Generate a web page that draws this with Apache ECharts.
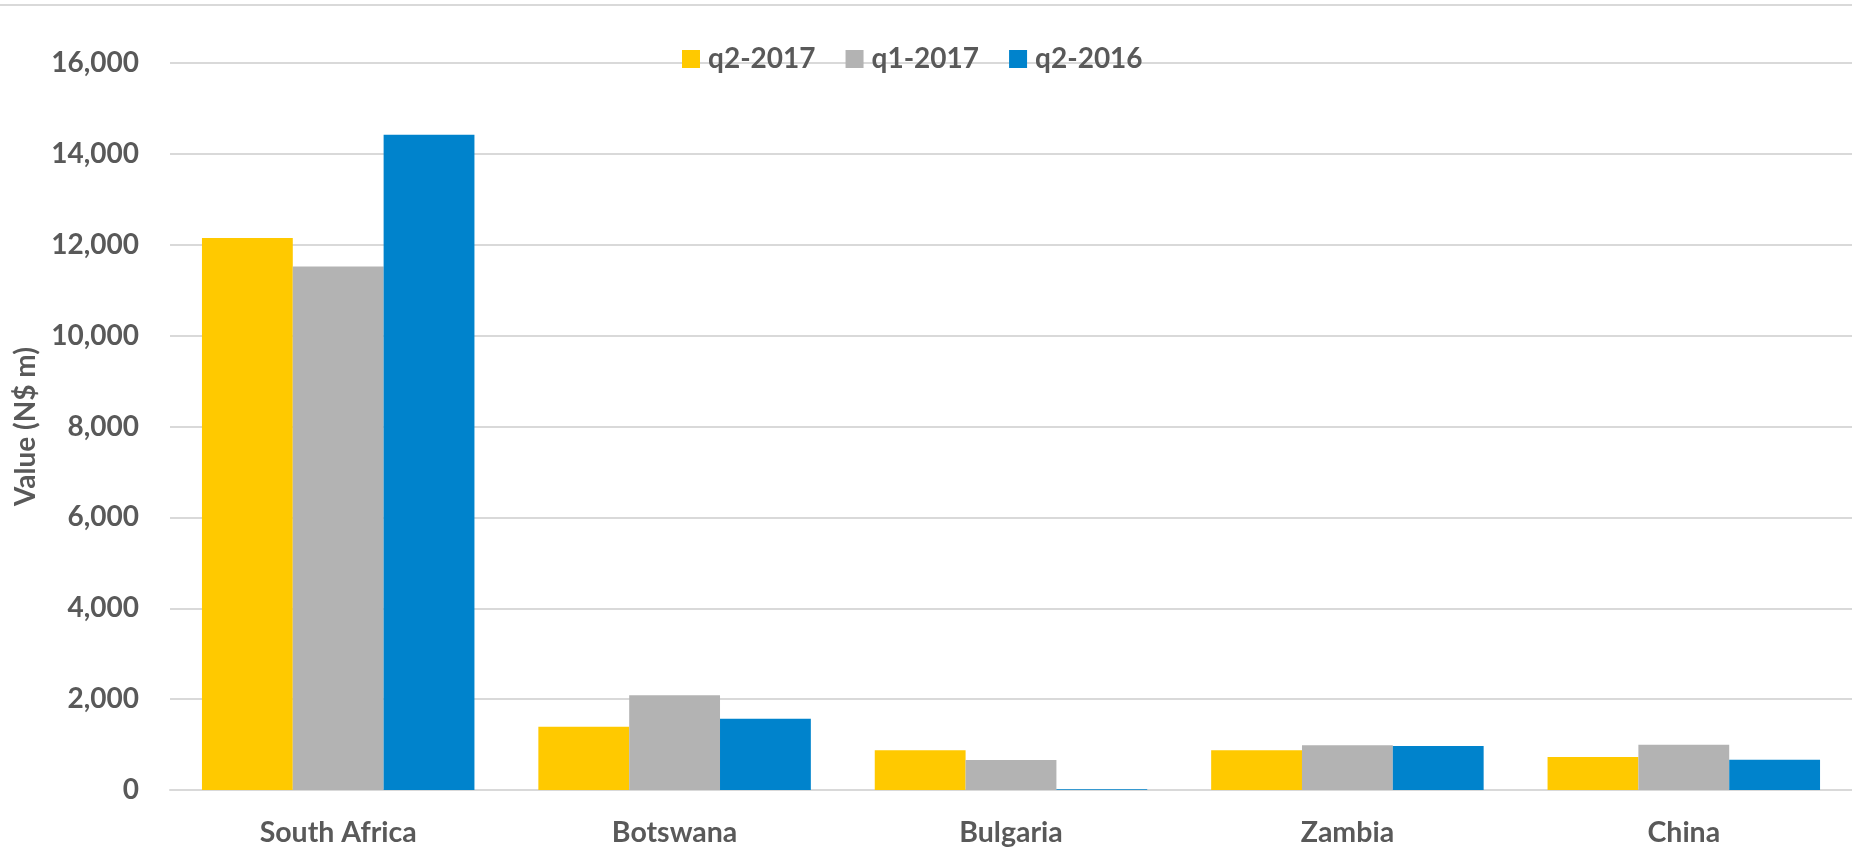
<!DOCTYPE html>
<html>
<head>
<meta charset="utf-8">
<script src="https://cdn.jsdelivr.net/npm/echarts@6/dist/echarts.min.js"></script>
<style>
  html, body { margin: 0; padding: 0; background: #fff; }
  #main { width: 1852px; height: 852px; }
</style>
</head>
<body>
<div id="main"></div>
<script>
// data
var countries = ['South Africa', 'Botswana', 'Bulgaria', 'Zambia', 'China'];
var seriesNames = ['q2-2017', 'q1-2017', 'q2-2016'];
var q2_2017 = [12150, 1390, 875, 875, 725];
var q1_2017 = [11520, 2085, 660, 985, 995];
var q2_2016 = [14420, 1570, 15, 970, 665];
var yTicks = [0, 2000, 4000, 6000, 8000, 10000, 12000, 14000, 16000];

var colors = ['#ffc900', '#b3b3b3', '#0083cc'];
var textColor = '#595959';
var gridColor = '#d9d9d9';
var font = 'Lato, "Liberation Sans", sans-serif';

var myChart = echarts.init(document.getElementById('main'));

var option = {
  animation: false,
  color: colors,
  textStyle: { fontFamily: font },
  graphic: [{
    // top border of the chart area
    type: 'line',
    shape: { x1: 0, y1: 5, x2: 1852, y2: 5 },
    style: { stroke: gridColor, lineWidth: 2 }
  }],
  legend: {
    left: 677,
    top: 40,
    itemWidth: 18,
    itemHeight: 18,
    itemGap: 30,
    icon: 'rect',
    data: seriesNames,
    textStyle: { color: textColor, fontSize: 28, fontWeight: 'bold', fontFamily: font, padding: [0, 0, 0, 3] }
  },
  grid: {
    left: 170,
    top: 63,
    width: 1689,
    bottom: 62,
    containLabel: false
  },
  xAxis: {
    type: 'category',
    data: countries,
    axisTick: { show: false },
    axisLine: { lineStyle: { color: gridColor, width: 2 } },
    axisLabel: { color: textColor, fontSize: 28.5, fontWeight: 'bold', margin: 28, fontFamily: font }
  },
  yAxis: {
    type: 'value',
    min: yTicks[0],
    max: yTicks[yTicks.length - 1],
    interval: 2000,
    name: 'Value (N$ m)',
    nameLocation: 'middle',
    nameRotate: 90,
    nameGap: 128,
    nameTextStyle: { color: textColor, fontSize: 28, fontWeight: 'bold', fontFamily: font },
    axisLine: { show: false },
    axisTick: { show: false },
    splitLine: { lineStyle: { color: gridColor, width: 2 } },
    axisLabel: {
      color: textColor,
      fontSize: 28,
      fontWeight: 'bold',
      margin: 31,
      padding: [6, 0, 0, 0],
      fontFamily: font,
      formatter: function (v) { return v.toLocaleString('en-US'); }
    }
  },
  series: [
    { name: seriesNames[0], type: 'bar', data: q2_2017, barGap: '0%', barCategoryGap: '19%' },
    { name: seriesNames[1], type: 'bar', data: q1_2017, barGap: '0%', barCategoryGap: '19%' },
    { name: seriesNames[2], type: 'bar', data: q2_2016, barGap: '0%', barCategoryGap: '19%' }
  ]
};

myChart.setOption(option);
</script>
</body>
</html>
